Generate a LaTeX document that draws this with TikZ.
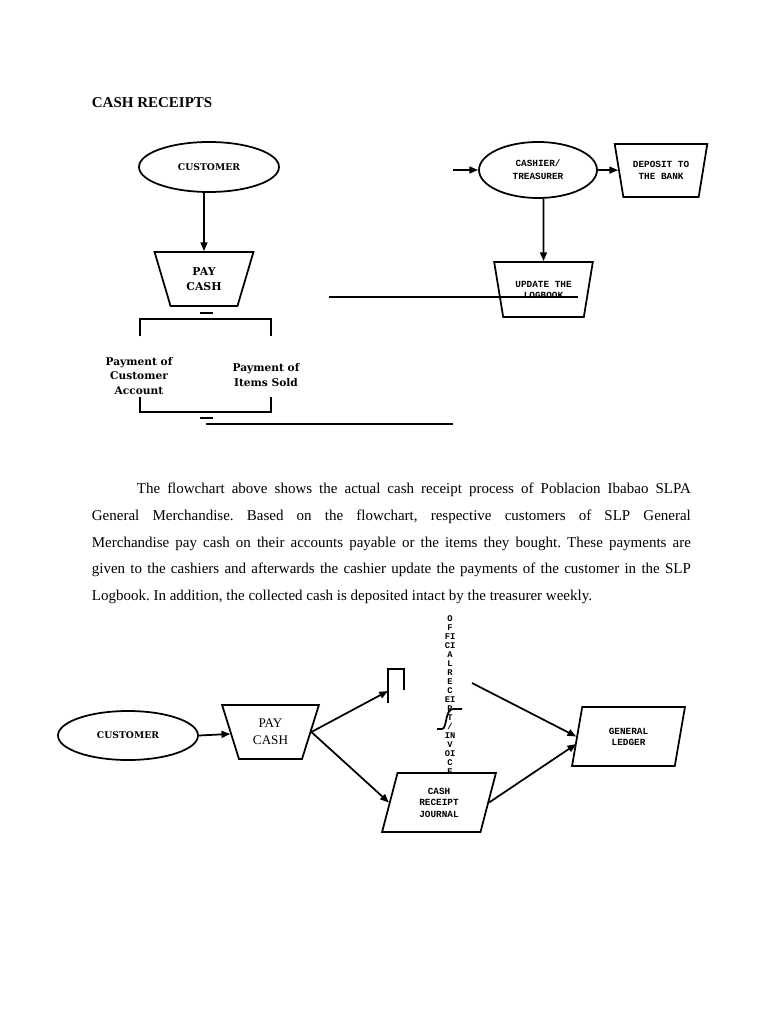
\documentclass[tikz,border=0pt]{standalone}
\usepackage{fontspec}
\setmainfont{Liberation Serif}
\newfontfamily\slabfont{DejaVu Serif}
\newfontfamily\typefont{Liberation Mono}
\usetikzlibrary{shapes.geometric,arrows.meta,calc}
\frenchspacing

\tikzset{
  flow/.style={-{Triangle[width=5.5pt,length=7pt]}},
  oval/.style={draw,ellipse,inner sep=0pt,fill=white},
  trapbox/.style={draw,trapezium,trapezium angle=70,shape border rotate=180,
    trapezium stretches=true,inner sep=0pt,align=center,fill=white},
  slantbox/.style={draw,trapezium,trapezium left angle=76,trapezium right angle=104,
    trapezium stretches=true,inner sep=0pt,align=center,fill=white},
  typelabel/.style={font=\typefont\bfseries\fontsize{7.5}{9.2}\selectfont},
  slablabel/.style={font=\slabfont\bfseries\fontsize{8.5}{11.6}\selectfont,align=center,inner sep=0pt}
}

\begin{document}
\begin{tikzpicture}[x=0.8pt,y=-0.8pt,line width=1.4pt]
\useasboundingbox (0,0) rectangle (768,1024);
\fill[white] (0,0) rectangle (768,1024);

\node[anchor=west,inner sep=0pt,font=\bfseries\fontsize{12}{14}\selectfont] (title) at (91,103) {CASH RECEIPTS};

% upper flowchart
\node[oval,minimum width=112pt,minimum height=40pt,font=\slabfont\bfseries\fontsize{7.4}{9}\selectfont] (cust1) at (209,167) {CUSTOMER};
\node[trapbox,minimum width=79.2pt,minimum height=43.2pt,font=\slabfont\bfseries\fontsize{8.7}{12}\selectfont] (pay1) at (204,279) {PAY\\CASH};
\draw[flow] (cust1.south -| pay1) -- (pay1);

\draw (200,313) -- (213,313);
\draw (140,336) -- (140,319) -- (271,319) -- (271,336);
\node[slablabel] (paycust) at (139,376) {Payment of\\Customer\\Account};
\node[slablabel] (payitem) at (266,375) {Payment of\\Items Sold};
\draw (140,397) -- (140,412) -- (271,412) -- (271,397);
\draw (200,418) -- (213,418);
\draw (206,424) -- (453,424);

\node[oval,typelabel,align=center,minimum width=94.4pt,minimum height=44.8pt,font=\typefont\bfseries\fontsize{7.5}{10.4}\selectfont] (cash) at (538,170) {CASHIER/\\TREASURER};
\node[trapbox,typelabel,minimum width=74.4pt,minimum height=42.4pt] (dep) at (661,170.5) {DEPOSIT TO\\THE BANK};
\node[trapbox,typelabel,minimum width=79.2pt,minimum height=44pt,font=\typefont\bfseries\fontsize{7.5}{8.8}\selectfont] (upd) at (543.5,289.5) {UPDATE THE\\LOGBOOK};
\coordinate (cashin) at (453,170);
\draw[flow] (cashin) -- (cash.west);
\draw[flow] (cash.east) -- (dep);
\draw[flow] (cash.south -| upd) -- (upd);
\draw (329,297) -- (578,297);

% paragraph
\node[anchor=north west,inner sep=0pt,align=left,font=\fontsize{12}{21.44}\selectfont] (para) at (91,482) {%
\hspace*{36pt}\makebox[443.2pt][s]{The flowchart above shows the actual cash receipt process of Poblacion Ibabao SLPA}\\
\makebox[479.2pt][s]{General Merchandise. Based on the flowchart, respective customers of SLP General}\\
\makebox[479.2pt][s]{Merchandise pay cash on their accounts payable or the items they bought. These payments are}\\
\makebox[479.2pt][s]{given to the cashiers and afterwards the cashier update the payments of the customer in the SLP}\\
Logbook. In addition, the collected cash is deposited intact by the treasurer weekly.};

% lower flowchart
\node[anchor=north,inner sep=0pt,align=center,font=\typefont\bfseries\fontsize{7}{7.2}\selectfont] (orinv) at (450,615)
  {O\\F\\FI\\CI\\A\\L\\R\\E\\C\\EI\\P\\T\\/\\IN\\V\\OI\\C\\E};
\node[oval,minimum width=112pt,minimum height=39.2pt,font=\slabfont\bfseries\fontsize{7.4}{9}\selectfont] (cust2) at (128,735.5) {CUSTOMER};
\node[trapbox,minimum width=77.6pt,minimum height=43.2pt,font=\fontsize{10.5}{13.6}\selectfont] (pay2) at (270.5,732) {PAY\\CASH};
\node[slantbox,typelabel,minimum width=91.2pt,minimum height=47.2pt] (jour) at (439,802.5) {CASH\\RECEIPT\\JOURNAL};
\node[slantbox,typelabel,minimum width=90.4pt,minimum height=47.2pt,font=\typefont\bfseries\fontsize{7.5}{8.8}\selectfont] (gl) at (628.5,736.5) {GENERAL\\LEDGER};

\draw[flow] (cust2.east) -- (pay2);
\coordinate (receipt) at (388,691);
\draw[flow] (pay2.east) -- (receipt);
\draw (388,703) -- (388,669) -- (404,669) -- (404,690);
\draw[flow] (pay2.east) -- (jour.west);
\draw (437,729) -- (442,729) .. controls (447,729) and (445,709) .. (453,709) -- (462,709);
\coordinate (invoice) at (472,683);
\draw[flow] (invoice) -- (gl.west);
\draw[flow] (jour.east) -- ([yshift=-6pt]gl.west);
\end{tikzpicture}
\end{document}
